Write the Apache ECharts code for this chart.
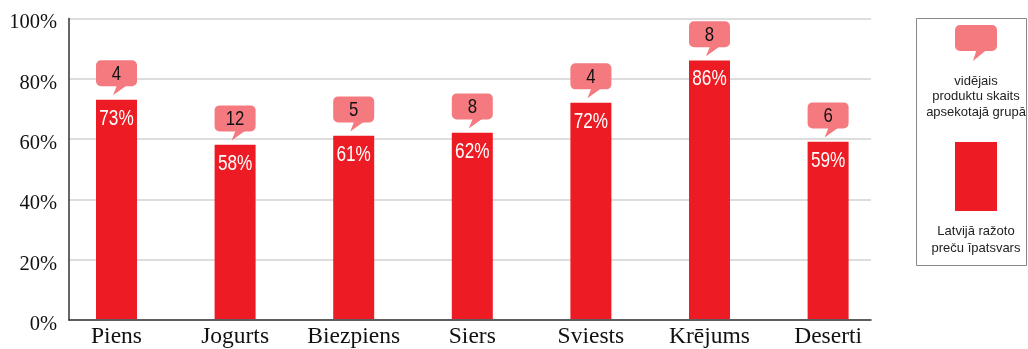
<!DOCTYPE html>
<html>
<head>
<meta charset="utf-8">
<script src="https://cdn.jsdelivr.net/npm/echarts@6/dist/echarts.min.js"></script>
<style>
  html, body { margin: 0; padding: 0; background: #fff; }
  #chart { width: 1028px; height: 349px; }
</style>
</head>
<body>
<div id="chart"></div>
<script>
// Product groups
const categories = ['Piens', 'Jogurts', 'Biezpiens', 'Siers', 'Sviests', 'Krējums', 'Deserti'];
// Share of goods produced in Latvia, %
const sharePct = [73, 58, 61, 62, 72, 86, 59];
// Average number of products in the surveyed group
const avgCount = [4, 12, 5, 8, 4, 8, 6];
// Value axis ticks
const yTicks = [0, 20, 40, 60, 80, 100];

const legendCountText = 'vidējais\nproduktu skaits\napsekotajā grupā';
const legendShareText = 'Latvijā ražoto\npreču īpatsvars';

const RED = '#ed1c24';
const PINK = '#f47a80';
const SANS = '"Liberation Sans", Arial, sans-serif';
const SERIF = '"Liberation Serif", "Times New Roman", serif';
const NARROW_SCALE = 0.8; // condensed look for the value labels

// Speech bubble: rounded box plus a small tail pointing down-left
function bubble(cx, top, w, h, r, tailL, tailR, tipX, tipY) {
  const b = top + h;
  return [
    { type: 'rect', shape: { x: cx - w / 2, y: top, width: w, height: h, r: r }, style: { fill: PINK } },
    { type: 'polygon', shape: { points: [[cx + tailL, b - 1], [cx + tailR, b - 1], [cx + tipX, tipY]] }, style: { fill: PINK } }
  ];
}

// Horizontally condensed text centred at (x, y)
function narrowText(x, y, text, size, color) {
  return {
    type: 'text', x: x, y: y, scaleX: NARROW_SCALE,
    style: {
      x: 0, y: 0, text: text, align: 'center', verticalAlign: 'middle',
      fill: color, font: size + 'px ' + SANS
    }
  };
}

const chart = echarts.init(document.getElementById('chart'), null, { renderer: 'canvas' });

const option = {
  animation: false,
  backgroundColor: '#fff',
  grid: [
    // bars and category labels
    { left: 57.2, width: 830.2, top: 18.5, height: 301.5 },
    // frame: value scale, gridlines, axis lines
    { left: 69, right: 157, top: 18.5, height: 301.5 }
  ],
  xAxis: [
    {
      type: 'category', gridIndex: 0, data: categories,
      axisLine: { show: false }, axisTick: { show: false },
      axisLabel: { fontFamily: SERIF, fontSize: 23.5, color: '#111', margin: 6, interval: 0 }
    },
    {
      type: 'value', gridIndex: 1, min: 0, max: 1,
      axisLine: { show: true, lineStyle: { color: '#333', width: 1.5 } },
      axisTick: { show: false }, axisLabel: { show: false }, splitLine: { show: false }
    }
  ],
  yAxis: [
    { type: 'value', gridIndex: 0, min: 0, max: 100, show: false },
    {
      type: 'value', gridIndex: 1, min: yTicks[0], max: yTicks[yTicks.length - 1], interval: 20,
      axisLine: { show: true, lineStyle: { color: '#333', width: 1.5 } },
      axisTick: { show: false },
      axisLabel: {
        formatter: '{value}%', fontFamily: SERIF, fontSize: 20.5, color: '#111', margin: 12,
        verticalAlign: 'top', lineHeight: 9
      },
      splitLine: { show: true, lineStyle: { color: '#d2d2d2', width: 1.5 } }
    }
  ],
  series: [
    {
      type: 'bar', xAxisIndex: 0, yAxisIndex: 0,
      data: sharePct, barWidth: 41,
      itemStyle: { color: RED },
      z: 3
    },
    {
      type: 'custom', xAxisIndex: 0, yAxisIndex: 0,
      data: categories.map((c, i) => [i, sharePct[i], avgCount[i]]),
      renderItem: function (params, api) {
        const p = api.coord([api.value(0), api.value(1)]);
        const cx = p[0], barTop = p[1];
        const top = barTop - 39.3;
        return {
          type: 'group',
          children: bubble(cx, top, 41, 26, 5, 0.5, 10.5, -3.5, barTop - 4.3).concat([
            narrowText(cx, top + 13.5, String(api.value(2)), 21, '#111'),
            narrowText(cx, barTop + 19, api.value(1) + '%', 21.5, '#fff')
          ])
        };
      },
      z: 4
    }
  ],
  graphic: [
    {
      type: 'rect', shape: { x: 916.5, y: 18.5, width: 110, height: 247 },
      style: { fill: '#fff', stroke: '#888', lineWidth: 1 }
    },
    {
      type: 'group',
      children: bubble(976, 25, 42, 26, 5, 0.5, 10.5, -3, 61)
    },
    {
      type: 'text', x: 976, y: 73.5,
      style: {
        text: legendCountText, align: 'center', verticalAlign: 'top',
        fill: '#222', font: '13px ' + SANS, lineHeight: 15.5
      }
    },
    {
      type: 'rect', shape: { x: 955, y: 142, width: 42, height: 69 },
      style: { fill: RED }
    },
    {
      type: 'text', x: 976, y: 223,
      style: {
        text: legendShareText, align: 'center', verticalAlign: 'top',
        fill: '#222', font: '13px ' + SANS, lineHeight: 17
      }
    }
  ]
};

chart.setOption(option);
</script>
</body>
</html>
